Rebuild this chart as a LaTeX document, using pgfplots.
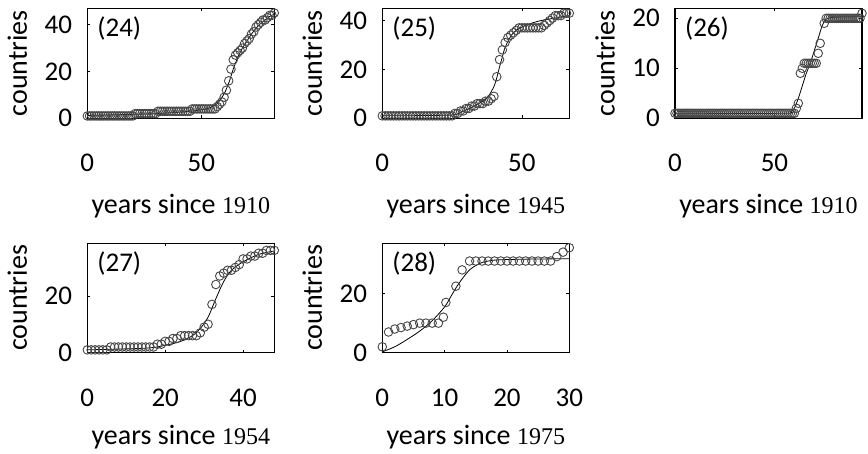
\documentclass[border=0pt]{standalone}
\usepackage{fontspec}
\setmainfont{Carlito}
\newfontfamily\yearfont{Liberation Serif}
\usepackage{pgfplots}
\pgfplotsset{compat=1.18}
\pgfplotsset{
  panel/.style={
    scale only axis, width=187pt, height=110pt, anchor=south west,
    xmin=0, ymin=0, clip=false,
    axis line style={line width=1.2pt, black},
    tick align=inside, major tick length=3pt,
    tick style={line width=0.6pt, black},
    /pgf/number format/assume math mode=true,
    ticklabel style={font=\fontsize{27}{27}\selectfont},
    xticklabel style={anchor=center, inner sep=0pt, yshift=-45pt},
    yticklabel style={anchor=east, inner sep=0pt, xshift=-15pt},
    ylabel={countries},
    ylabel style={font=\fontsize{28}{28}\selectfont, at={(axis description cs:-0.374,0.5)}, anchor=center},
    xlabel style={font=\fontsize{28}{28}\selectfont, at={(axis description cs:0.5,-0.865)}, anchor=base},
  },
  pts/.style={only marks, mark=o, mark size=4.3pt, draw=black!72, mark options={line width=0.9pt}},
  fit/.style={black, line width=0.8pt, smooth, no marks},
}
\newcommand{\plab}[1]{\node[anchor=north west, inner sep=0pt, font=\fontsize{27}{27}\selectfont] at (axis description cs:0.053,0.925) {#1};}
\begin{document}
\begin{tikzpicture}
\path[use as bounding box] (0,0) rectangle (868pt,454pt);
% (24)
\begin{axis}[panel, at={(87.3pt,335.7pt)}, xmax=82, ymax=47, xtick={0,50}, ytick={0,20,40},
  xlabel={years since {\yearfont\fontsize{24}{24}\selectfont 1910}}]
\addplot[pts] coordinates {
(0,1)(1,1)(2,1)(3,1)(4,1)(5,1)(6,1)(7,1)(8,1)(9,1)(10,1)(11,1)(12,1)(13,1)(14,1)(15,1)(16,1)(17,1)(18,1)(19,1)(20,1)
(21,2)(22,2)(23,2)(24,2)(25,2)(26,2)(27,2)(28,2)(29,2)(30,2)
(31,3)(32,3)(33,3)(34,3)(35,3)(36,3)(37,3)(38,3)(39,3)(40,3)(41,3)(42,3)(43,3)(44,3)(45,3)
(46,4)(47,4)(48,4)(49,4)(50,4)(51,4)(52,4)(53,4)(54,4)(55,4)
(56,4)(57,5)(58,6)(59,7)(60,9)(61,12)(62,16)(63,21)(64,25)(65,27)(66,28)(67,29)(68,30)(69,32)(70,33)
(71,34)(72,36)(73,37)(74,39)(75,40)(76,41)(77,42)(78,42)(79,43)(80,44)(81,44)(82,45)};
\addplot[fit] coordinates {(0,1.2)(30,2)(45,3)(52,4)(56,5.5)(58,7.5)(60,10.5)(62,15)(64,21)(66,26)(68,30)(70,33)(72,36)(74,38.5)(76,40.5)(78,42)(80,43.5)(82,44.5)};
\plab{(24)}
\end{axis}
% (25)
\begin{axis}[panel, at={(382.3pt,335.7pt)}, xmax=67, ymax=45, xtick={0,50}, ytick={0,20,40},
  xlabel={years since {\yearfont\fontsize{24}{24}\selectfont 1945}}]
\addplot[pts] coordinates {
(0,1)(1,1)(2,1)(3,1)(4,1)(5,1)(6,1)(7,1)(8,1)(9,1)(10,1)(11,1)(12,1)(13,1)(14,1)(15,1)(16,1)(17,1)(18,1)(19,1)(20,1)(21,1)(22,1)(23,1)(24,1)(25,1)
(26,2)(27,2)(28,3)(29,3)(30,4)(31,4)(32,5)(33,5)(34,6)(35,6)(36,6)(37,7)(38,7)(39,8)(40,9)
(41,17)(42,24)(43,28)(44,31)(45,33)(46,34)(47,35)(48,36)(49,37)(50,37)(51,37)(52,37)(53,37)(54,37)(55,37)(56,37)(57,37)
(58,38)(59,39)(60,40)(61,41)(62,42)(63,42)(64,42)(65,43)(66,43)(67,43)};
\addplot[fit] coordinates {(0,1)(24,1.3)(28,2.5)(32,4.5)(36,7)(38,9)(40,13)(41,16.5)(42,21)(43,25)(44,29)(46,33.5)(48,36)(52,38.3)(57,40)(67,42)};
\plab{(25)}
\end{axis}
% (26)
\begin{axis}[panel, at={(675pt,335.7pt)}, xmax=94, ymax=22, xtick={0,50}, ytick={0,10,20},
  xlabel={years since {\yearfont\fontsize{24}{24}\selectfont 1910}}]
\addplot[pts] coordinates {
(0,1)(1,1)(2,1)(3,1)(4,1)(5,1)(6,1)(7,1)(8,1)(9,1)(10,1)(11,1)(12,1)(13,1)(14,1)(15,1)(16,1)(17,1)(18,1)(19,1)
(20,1)(21,1)(22,1)(23,1)(24,1)(25,1)(26,1)(27,1)(28,1)(29,1)(30,1)(31,1)(32,1)(33,1)(34,1)(35,1)(36,1)(37,1)(38,1)(39,1)
(40,1)(41,1)(42,1)(43,1)(44,1)(45,1)(46,1)(47,1)(48,1)(49,1)(50,1)(51,1)(52,1)(53,1)(54,1)(55,1)(56,1)(57,1)(58,1)(59,1)(60,1)
(61,2)(62,3)(63,9)(64,10)(65,11)(66,11)(67,11)(68,11)(69,11)(70,11)(71,11)(72,13)(73,15)(75,19)
(76,20)(77,20)(78,20)(79,20)(80,20)(81,20)(82,20)(83,20)(84,20)(85,20)(86,20)(87,20)(88,20)(89,20)(90,20)(91,20)(92,20)(93,20)(94,21)};
\addplot[fit] coordinates {(0,1)(55,1)(58,1.3)(60,2)(62,4)(64,6.5)(66,9)(68,11)(70,13.5)(72,16)(74,18.5)(76,19.8)(80,20.2)(94,20.3)};
\plab{(26)}
\end{axis}
% (27)
\begin{axis}[panel, at={(87.3pt,101.3pt)}, height=109.4pt, xmax=48, ymax=38.5, xtick={0,20,40}, ytick={0,20},
  xlabel style={at={(axis description cs:0.5,-0.835)}},
  xlabel={years since {\yearfont\fontsize{24}{24}\selectfont 1954}}]
\addplot[pts] coordinates {
(0,1)(1,1)(2,1)(3,1)(4,1)(5,1)(6,2)(7,2)(8,2)(9,2)(10,2)(11,2)(12,2)(13,2)(14,2)(15,2)(16,2)(17,2)
(18,3)(19,3)(20,4)(21,4)(22,5)(23,5)(24,6)(25,6)(26,6)(27,6)(28,6)(29,7)(30,9)(31,10)
(32,17)(33,24)(34,27)(35,28)(36,29)(37,29)(38,30)(39,31)(40,33)(41,33)(42,34)(43,34)(44,35)(45,35)(46,36)(47,36)(48,36)};
\addplot[fit] coordinates {(0,1)(15,1.6)(20,2.6)(24,4)(27,6)(29,8.5)(31,12.5)(33,19)(35,25)(37,29)(40,32)(44,34.6)(48,35.8)};
\plab{(27)}
\end{axis}
% (28)
\begin{axis}[panel, at={(382.3pt,101.3pt)}, height=109.4pt, xmax=30, ymax=37, xtick={0,10,20,30}, ytick={0,20},
  xlabel style={at={(axis description cs:0.5,-0.835)}},
  xlabel={years since {\yearfont\fontsize{24}{24}\selectfont 1975}}]
\addplot[pts] coordinates {
(0,2)(1,7)(2,8)(3,8.5)(4,9)(5,9.5)(6,10)(7,10)(8,10)(9,10)(9.8,12)(10.2,17)(11.8,22.5)(12.8,28)
(14,31)(15,31)(16,31)(17,31)(18,31)(19,31)(20,31)(21,31)(22,31)(23,31)(24,31)(25,31)(26,31)(27,31)
(28,32.5)(29,34)(30,35.5)};
\addplot[fit] coordinates {(0,0.3)(2,2)(4,4.5)(6,7.3)(8,10.8)(10,15.5)(11,19)(12,22.5)(13,25.5)(14,28)(15,29.5)(16,30.5)(18,31.3)(22,31.6)(30,31.8)};
\plab{(28)}
\end{axis}
\end{tikzpicture}
\end{document}
